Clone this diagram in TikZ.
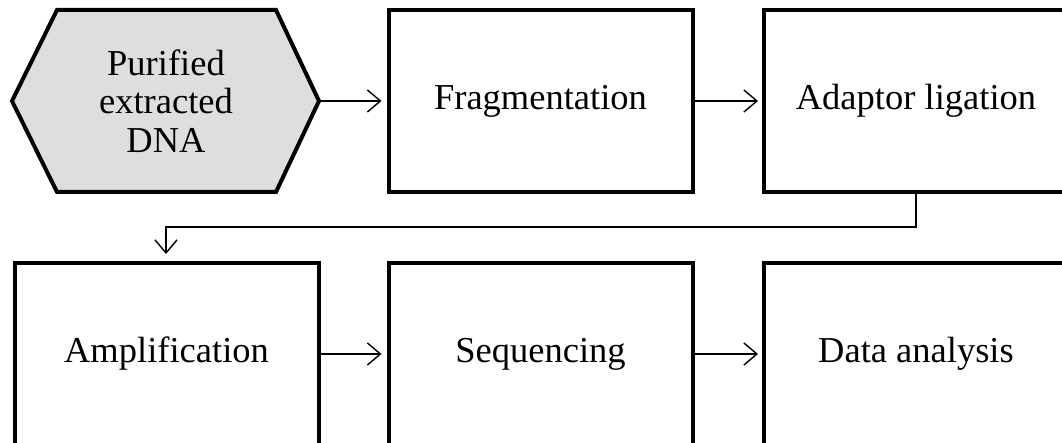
\documentclass[tikz,border=0pt]{standalone}
\usepackage{fontspec}
\setmainfont{Liberation Serif}
\usetikzlibrary{arrows.meta}
\begin{document}
\begin{tikzpicture}[x=1pt,y=-1pt,
  stepbox/.style={draw=black,line width=4pt,minimum width=304pt,minimum height=182pt,inner sep=0pt,
    font=\fontsize{36.5}{38.5}\selectfont,align=center},
  conn/.style={line width=1.4pt,-{Straight Barb[length=13pt,width=22pt,line width=1.4pt]}},
  hexfill/.style={fill=black!13,draw=black,line width=4pt,line join=miter}]
\useasboundingbox (0,0) rectangle (1062,443);
\clip (0,0) rectangle (1062,443);
% hexagon
\coordinate (hl) at (12,101);
\coordinate (htl) at (57,10);
\coordinate (htr) at (276,10);
\coordinate (hr) at (319,101);
\coordinate (hbr) at (276,192);
\coordinate (hbl) at (57,192);
\draw[hexfill] (hl) -- (htl) -- (htr) -- (hr) -- (hbr) -- (hbl) -- cycle;
\node[font=\fontsize{36.5}{38.5}\selectfont,align=center] (dna) at (166,101) {Purified\\extracted\\DNA};
% top row
\node[stepbox] (frag) at (540.5,101) {Fragmentation};
\node[stepbox] (adapt) at (916,101) {Adaptor ligation};
% bottom row
\node[stepbox] (amp) at (166.5,354) {Amplification};
\node[stepbox] (seq) at (540.5,354) {Sequencing};
\node[stepbox] (data) at (916,354) {Data analysis};
% connectors
\draw[conn,shorten >=5pt] (hr) -- (frag.west);
\draw[conn,shorten >=4pt] (frag.east) -- (adapt.west);
\coordinate (c1) at (916,227);
\coordinate (c2) at (166,227);
\draw[conn,shorten >=7pt] (adapt.south) -- (c1) -- (c2) -- (amp.north -| c2);
\draw[conn,shorten >=5pt] (amp.east) -- (seq.west);
\draw[conn,shorten >=4pt] (seq.east) -- (data.west);
\end{tikzpicture}
\end{document}
